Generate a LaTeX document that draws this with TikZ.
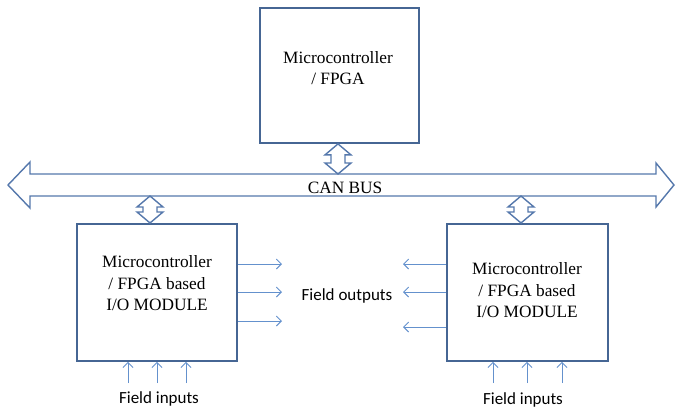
\documentclass[tikz,border=0pt]{standalone}
\usepackage{fontspec}
\setmainfont{Liberation Serif}
\newfontfamily\calib{Carlito}
\usetikzlibrary{arrows.meta,calc}
\definecolor{boxc}{RGB}{70,102,148}
\definecolor{busc}{RGB}{85,120,172}
\definecolor{fld}{RGB}{100,145,205}
\tikzset{
 box/.style={draw=boxc,line width=1.9pt,rectangle,inner sep=0pt,anchor=north west},
 boxtext/.style={align=center,font=\fontsize{17.3}{21.5}\selectfont,inner sep=0pt},
 busline/.style={draw=busc,line width=1.4pt,fill=white,line join=miter},
 fieldarr/.style={draw=fld,line width=0.9pt,-{Straight Barb[length=5pt,width=10pt]}},
 fieldtext/.style={font=\calib\fontsize{17}{20}\selectfont,inner sep=0pt},
}
\newcommand\dblarr[2]{%
 \draw[busline] let \p1=#1, \p2=#2 in
 (\x1,\y1) -- (\x1+13pt,\y1-11pt) -- (\x1+7pt,\y1-11pt) -- (\x1+7pt,\y2+11pt)
 -- (\x1+13pt,\y2+11pt) -- (\x1,\y2) -- (\x1-13pt,\y2+11pt) -- (\x1-7pt,\y2+11pt)
 -- (\x1-7pt,\y1-11pt) -- (\x1-13pt,\y1-11pt) -- cycle;}
\begin{document}
\begin{tikzpicture}[x=1pt,y=-1pt]
\useasboundingbox (0,0) rectangle (675,410);
% boxes
\node[box,minimum width=159pt,minimum height=135pt] (top) at (259,7) {};
\node[boxtext] (toptext) at (338,68) {Microcontroller\\/ FPGA};
\node[box,minimum width=160pt,minimum height=137pt] (m1) at (76,223) {};
\node[boxtext] (m1text) at (157,283.5) {Microcontroller\\/ FPGA based\\I/O MODULE};
\node[box,minimum width=161pt,minimum height=137pt] (m2) at (446,223) {};
\node[boxtext] (m2text) at (527,290.5) {Microcontroller\\/ FPGA based\\I/O MODULE};
% CAN bus
\draw[busline] (8,185) coordinate (busL) -- (30,162) -- (30,174) coordinate (busTL)
  -- (656,174) coordinate (busTR) -- (656,163) -- (674,185) coordinate (busR)
  -- (656,207) -- (656,196) coordinate (busBR) -- (30,196) coordinate (busBL)
  -- (30,208) -- cycle;
\node[boxtext] (can) at (345,188) {CAN BUS};
% bus connections
\coordinate (a0) at (338,0);
\coordinate (a1) at (150,0);
\coordinate (a2) at (521,0);
\dblarr{(a0 |- top.south)}{(a0 |- busTL)}
\dblarr{(a1 |- busBL)}{(a1 |- m1.north)}
\dblarr{(a2 |- busBL)}{(a2 |- m2.north)}
% field outputs
\foreach \y in {264,292,321} {
  \coordinate (lo\y) at (282,\y);
  \draw[fieldarr] (m1.east |- lo\y) -- (lo\y);
}
\foreach \y in {264,292,327} {
  \coordinate (ro\y) at (403,\y);
  \draw[fieldarr] (m2.west |- ro\y) -- (ro\y);
}
\node[fieldtext] (fo) at (347,296) {Field outputs};
% field inputs
\foreach \x in {128,157,186} {
  \coordinate (li\x) at (\x,383);
  \draw[fieldarr] (li\x) -- (li\x |- m1.south);
}
\foreach \x in {493,527,562} {
  \coordinate (ri\x) at (\x,383);
  \draw[fieldarr] (ri\x) -- (ri\x |- m2.south);
}
\node[fieldtext] (fi1) at (159,399) {Field inputs};
\node[fieldtext] (fi2) at (523,400) {Field inputs};
\end{tikzpicture}
\end{document}
